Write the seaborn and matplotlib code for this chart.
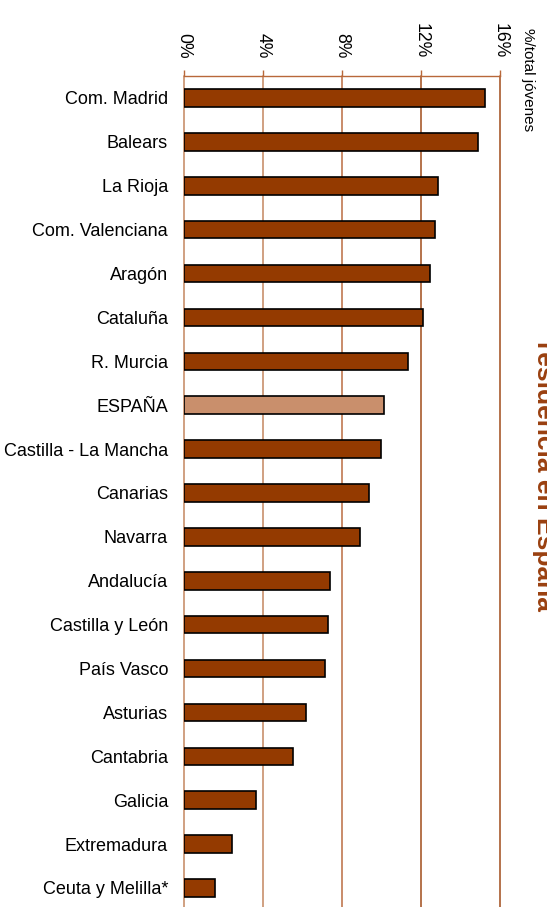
import matplotlib
matplotlib.use('Agg')
import matplotlib.pyplot as plt
import pandas as pd
import seaborn as sns

regiones = ["Com. Madrid", "Balears", "La Rioja", "Com. Valenciana", "Aragón",
            "Cataluña", "R. Murcia", "ESPAÑA", "Castilla - La Mancha", "Canarias",
            "Navarra", "Andalucía", "Castilla y León", "País Vasco", "Asturias",
            "Cantabria", "Galicia", "Extremadura", "Ceuta y Melilla*"]
porcentaje = [15.25, 14.9, 12.88, 12.7, 12.45, 12.1, 11.35, 10.15, 9.97, 9.37,
              8.93, 7.38, 7.3, 7.12, 6.18, 5.52, 3.65, 2.45, 1.58]
ticks = [0, 4, 8, 12, 16]
tick_labels = ["0%", "4%", "8%", "12%", "16%"]

BAR = "#943a00"
SPAIN = "#c98f6c"


def plot_chart():
	sns.set_style("white")
	plt.rcParams['font.family'] = ['Liberation Sans', 'DejaVu Sans']
	plt.rcParams['text.color'] = 'black'
	plt.rcParams['xtick.labelcolor'] = 'black'
	plt.rcParams['ytick.labelcolor'] = 'black'

	df = pd.DataFrame({"region": regiones, "pct": porcentaje})
	palette = {r: (SPAIN if r == "ESPAÑA" else BAR) for r in regiones}

	fig = plt.figure(figsize=(5.47, 9.07), dpi=100)
	ax = fig.add_axes([0.3364, -0.0032, 0.5777, 0.9194])

	sns.barplot(data=df, x="pct", y="region", hue="region", palette=palette,
				legend=False, width=0.4, edgecolor="black", linewidth=1.2,
				saturation=1, ax=ax)

	ax.set_xlim(0, 16)
	ax.set_ylim(len(regiones) - 0.5, -0.5)
	ax.xaxis.tick_top()
	ax.set_xticks(ticks)
	ax.set_xticklabels(tick_labels, rotation=-90, fontsize=12.7)
	ax.tick_params(axis="x", length=4.3, width=1, color="#b8683a", pad=8.5)
	ax.tick_params(axis="y", length=0, pad=11.5, labelsize=13)
	ax.set_xlabel("")
	ax.set_ylabel("")

	# vertical gridlines, lighter on the left and darker to the right
	grid_cols = ["#c8906c", "#c8906c", "#c07850", "#a85a2c", "#a85a2c"]
	ax.grid(axis="x", linewidth=1.2)
	for gl, c in zip(ax.get_xgridlines(), grid_cols):
		gl.set_color(c)
		gl.set_clip_on(False)
	ax.set_axisbelow(True)

	for s in ["left", "right", "bottom"]:
		ax.spines[s].set_visible(False)
	ax.spines["top"].set_color("#b8683a")
	ax.spines["top"].set_linewidth(1)

	fig.text(524 / 547, 1 - 28 / 907, "%/total jóvenes", rotation=-90,
			 rotation_mode="anchor", ha="left", va="baseline", fontsize=11)
	# title sits partly outside the canvas, as in the original
	fig.text(537 / 547, 1 - 341 / 907, "residencia en España", rotation=-90,
			 rotation_mode="anchor", ha="left", va="baseline", fontsize=19,
			 fontweight="bold", color="#9a4010")

	fig.savefig("out.png", dpi=100)


def main():
	plot_chart()


if __name__ == "__main__":
	main()
